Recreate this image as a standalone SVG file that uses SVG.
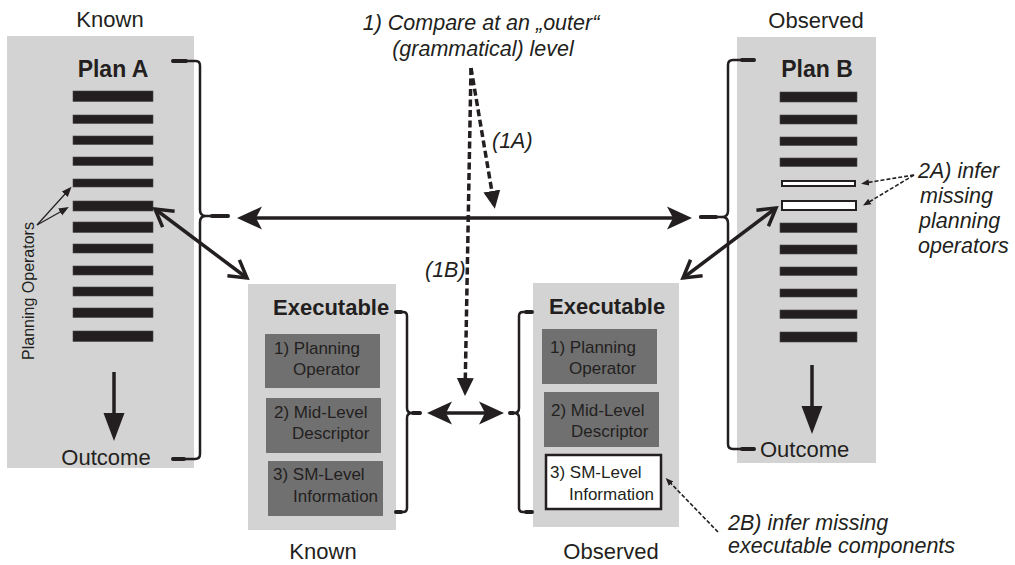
<svg xmlns="http://www.w3.org/2000/svg" width="1015" height="565" viewBox="0 0 1015 565">
  <style>
    .panel { fill: #d3d3d3; }
    .bar { fill: #231f20; stroke: #4a4647; stroke-width: 0.6; }
    .gap { fill: #ffffff; stroke: #231f20; stroke-width: 2; }
    .part { fill: #707070; }
    .part-missing { fill: #ffffff; stroke: #231f20; stroke-width: 2.5; }
    .t { font-family: "Liberation Sans", Arial, sans-serif; fill: #231f20; }
    .lbl { font-size: 22px; }
    .title { font-size: 23px; font-weight: bold; }
    .exe { font-size: 22px; font-weight: bold; }
    .part-t { font-size: 17px; }
    .note { font-size: 21.5px; font-style: italic; }
    .po { font-size: 16px; }
    .brace { fill: none; stroke: #231f20; stroke-width: 2.5; stroke-linejoin: round; }
    .brace-end { fill: none; stroke: #231f20; stroke-width: 4; stroke-linecap: round; }
    .solid { fill: none; stroke: #231f20; stroke-width: 3.5; }
    .dash { fill: none; stroke: #231f20; stroke-width: 3.5; stroke-dasharray: 7 3.5; }
    .thin-dash { fill: none; stroke: #231f20; stroke-width: 1.6; stroke-dasharray: 4 2; }
    .thin { fill: none; stroke: #231f20; stroke-width: 1.2; }
  </style>
  <defs>
    <!-- notched filled head for the comparison arrows -->
    <marker id="stealth" viewBox="-1 -13 28 26" refX="6" refY="0" markerWidth="28" markerHeight="26" markerUnits="userSpaceOnUse" orient="auto-start-reverse">
      <path d="M0,-11.5 L25,0 L0,11.5 L6,0 Z" fill="#231f20"/>
    </marker>
    <!-- open chevron head -->
    <marker id="chev" viewBox="-22 -14 28 28" refX="0" refY="0" markerWidth="28" markerHeight="28" markerUnits="userSpaceOnUse" orient="auto-start-reverse" overflow="visible">
      <path d="M-17,-10 L0,0 L-17,10" fill="none" stroke="#231f20" stroke-width="3.5"/>
    </marker>
    <!-- filled triangle head for dashed arrows -->
    <marker id="tri" viewBox="0 -9 19 18" refX="1" refY="0" markerWidth="19" markerHeight="18" markerUnits="userSpaceOnUse" orient="auto">
      <path d="M0,-8.5 L18,0 L0,8.5 Z" fill="#231f20"/>
    </marker>
    <!-- filled triangle head for the outcome arrows -->
    <marker id="down" viewBox="0 -11 29 22" refX="1" refY="0" markerWidth="29" markerHeight="22" markerUnits="userSpaceOnUse" orient="auto">
      <path d="M0,-10.5 L28,0 L0,10.5 Z" fill="#231f20"/>
    </marker>
    <!-- small heads for thin pointers -->
    <marker id="small" viewBox="0 -5 11 10" refX="1" refY="0" markerWidth="11" markerHeight="10" markerUnits="userSpaceOnUse" orient="auto">
      <path d="M0,-4 L10,0 L0,4 Z" fill="#231f20"/>
    </marker>
    <marker id="tiny" viewBox="0 -4 9 8" refX="1" refY="0" markerWidth="9" markerHeight="8" markerUnits="userSpaceOnUse" orient="auto">
      <path d="M0,-3.2 L8,0 L0,3.2 Z" fill="#231f20"/>
    </marker>
  </defs>

  <rect width="1015" height="565" fill="#ffffff"/>

  <!-- Plan A (known) -->
  <g id="plan-a">
    <rect class="panel" x="7" y="36" width="187" height="432"/>
    <text class="t lbl" x="110" y="27" text-anchor="middle">Known</text>
    <text class="t title" x="113" y="77" text-anchor="middle">Plan A</text>
    <rect class="bar" x="73" y="91" width="80" height="10.5"/>
    <rect class="bar" x="73" y="115" width="80" height="8.5"/>
    <rect class="bar" x="73" y="136" width="80" height="8.5"/>
    <rect class="bar" x="73" y="157" width="80" height="8.5"/>
    <rect class="bar" x="73" y="179" width="80" height="8"/>
    <rect class="bar" x="73" y="201" width="80" height="10"/>
    <rect class="bar" x="73" y="222" width="80" height="10.5"/>
    <rect class="bar" x="73" y="244" width="80" height="9"/>
    <rect class="bar" x="73" y="266" width="80" height="9"/>
    <rect class="bar" x="73" y="287" width="80" height="9"/>
    <rect class="bar" x="73" y="308" width="80" height="9.5"/>
    <rect class="bar" x="73" y="331" width="80" height="10.5"/>
    <text class="t po" transform="translate(34,291) rotate(-90)" text-anchor="middle">Planning Operators</text>
    <line class="thin" x1="37" y1="225" x2="65.5" y2="193.5" marker-end="url(#small)"/>
    <line class="thin" x1="37" y1="225" x2="61" y2="211.5" marker-end="url(#small)"/>
    <line class="solid" x1="114" y1="372" x2="114" y2="414" marker-end="url(#down)"/>
    <text class="t lbl" x="106" y="465" text-anchor="middle">Outcome</text>
  </g>

  <!-- Plan B (observed) -->
  <g id="plan-b">
    <rect class="panel" x="737" y="37" width="139" height="426"/>
    <text class="t lbl" x="816" y="28" text-anchor="middle">Observed</text>
    <text class="t title" x="817" y="77" text-anchor="middle">Plan B</text>
    <rect class="bar" x="780" y="92" width="77" height="10"/>
    <rect class="bar" x="780" y="115" width="77" height="9"/>
    <rect class="bar" x="780" y="137" width="77" height="8.5"/>
    <rect class="bar" x="780" y="158" width="77" height="8.5"/>
    <rect class="gap" x="782" y="181" width="73" height="5"/>
    <rect class="gap" x="782" y="201" width="74" height="9"/>
    <rect class="bar" x="780" y="223" width="77" height="9.5"/>
    <rect class="bar" x="780" y="245" width="77" height="9"/>
    <rect class="bar" x="780" y="267" width="77" height="8.5"/>
    <rect class="bar" x="780" y="289" width="77" height="8"/>
    <rect class="bar" x="780" y="310" width="77" height="8.5"/>
    <rect class="bar" x="780" y="332" width="77" height="10"/>
    <line class="solid" x1="812" y1="365" x2="812" y2="407" marker-end="url(#down)"/>
    <text class="t lbl" x="760" y="457">Outcome</text>
  </g>

  <!-- Executable (known) -->
  <g id="exec-known">
    <rect class="panel" x="248" y="284" width="148" height="246"/>
    <text class="t exe" x="273" y="315">Executable</text>
    <rect class="part" x="265" y="334" width="115" height="54"/>
    <text class="t part-t" x="274" y="354">1) Planning</text>
    <text class="t part-t" x="293" y="375">Operator</text>
    <rect class="part" x="266" y="398" width="115" height="55"/>
    <text class="t part-t" x="274" y="418">2) Mid-Level</text>
    <text class="t part-t" x="292" y="439">Descriptor</text>
    <rect class="part" x="268" y="461" width="115" height="55"/>
    <text class="t part-t" x="273" y="480">3) SM-Level</text>
    <text class="t part-t" x="293" y="502">Information</text>
    <text class="t lbl" x="323" y="559" text-anchor="middle">Known</text>
  </g>

  <!-- Executable (observed) -->
  <g id="exec-observed">
    <rect class="panel" x="533" y="283" width="146" height="244"/>
    <text class="t exe" x="549" y="314">Executable</text>
    <rect class="part" x="542" y="329" width="115" height="55"/>
    <text class="t part-t" x="550" y="353">1) Planning</text>
    <text class="t part-t" x="569" y="374">Operator</text>
    <rect class="part" x="544" y="392" width="115" height="55"/>
    <text class="t part-t" x="551" y="416">2) Mid-Level</text>
    <text class="t part-t" x="571" y="437">Descriptor</text>
    <rect class="part-missing" x="546" y="455" width="115" height="54"/>
    <text class="t part-t" x="550" y="478">3) SM-Level</text>
    <text class="t part-t" x="569" y="500">Information</text>
    <text class="t lbl" x="611" y="559" text-anchor="middle">Observed</text>
  </g>

  <!-- braces grouping each plan and executable -->
  <g id="braces">
    <path class="brace" d="M172,61 H196 Q200,61 200,66 V210 Q200,216 206,216 H229 M206,216 Q200,216 200,222 V454 Q200,459 195,459 H172"/>
    <path class="brace-end" d="M173,61 H186 M173,459 H184 M212,216 H228"/>
    <path class="brace" d="M755,60 H733 Q728,60 728,65 V211 Q728,217 722,217 H699 M722,217 Q728,217 728,223 V444 Q728,449 733,449 H755"/>
    <path class="brace-end" d="M742,60 H754 M742,449 H754 M701,217 H716"/>
    <path class="brace" d="M395,312 H403 Q407,312 407,316 V408 Q407,413 412,413 H421 M412,413 Q407,413 407,418 V508 Q407,512 403,512 H395"/>
    <path class="brace-end" d="M396,312 H401 M396,512 H401 M413,413 H420"/>
    <path class="brace" d="M532,312 H523 Q519,312 519,316 V408 Q519,413 514,413 H509 M514,413 Q519,413 519,418 V508 Q519,512 523,512 H533"/>
    <path class="brace-end" d="M526,312 H532 M526,512 H532 M510,413 H513"/>
  </g>

  <!-- comparison connectors -->
  <g id="connectors">
    <line class="solid" x1="256" y1="218" x2="673" y2="218" marker-start="url(#stealth)" marker-end="url(#stealth)"/>
    <line class="solid" x1="446" y1="413" x2="485" y2="413" marker-start="url(#stealth)" marker-end="url(#stealth)"/>
    <line class="solid" x1="155" y1="209" x2="247" y2="278" marker-start="url(#chev)" marker-end="url(#chev)"/>
    <line class="solid" x1="683" y1="278" x2="776" y2="208" marker-start="url(#chev)" marker-end="url(#chev)"/>
    <line class="dash" x1="471" y1="68" x2="492" y2="192" marker-end="url(#tri)"/>
    <line class="dash" x1="471" y1="68" x2="465.3" y2="379" marker-end="url(#tri)"/>
    <line class="thin-dash" x1="914" y1="175" x2="868" y2="182.5" marker-end="url(#tiny)"/>
    <line class="thin-dash" x1="914" y1="175" x2="869" y2="202" marker-end="url(#tiny)"/>
    <line class="thin-dash" x1="718" y1="532" x2="670.5" y2="483" marker-end="url(#tiny)"/>
  </g>

  <!-- annotations -->
  <g id="notes">
    <text class="t note" x="481" y="30" text-anchor="middle">1) Compare at an „outer“</text>
    <text class="t note" x="483" y="56" text-anchor="middle">(grammatical) level</text>
    <text class="t note" x="492" y="148">(1A)</text>
    <text class="t note" x="425" y="277">(1B)</text>
    <text class="t note" x="918" y="178">2A) infer</text>
    <text class="t note" x="920" y="203">missing</text>
    <text class="t note" x="919" y="228">planning</text>
    <text class="t note" x="918" y="253">operators</text>
    <text class="t note" x="728" y="530">2B) infer missing</text>
    <text class="t note" x="728" y="553">executable components</text>
  </g>
</svg>
